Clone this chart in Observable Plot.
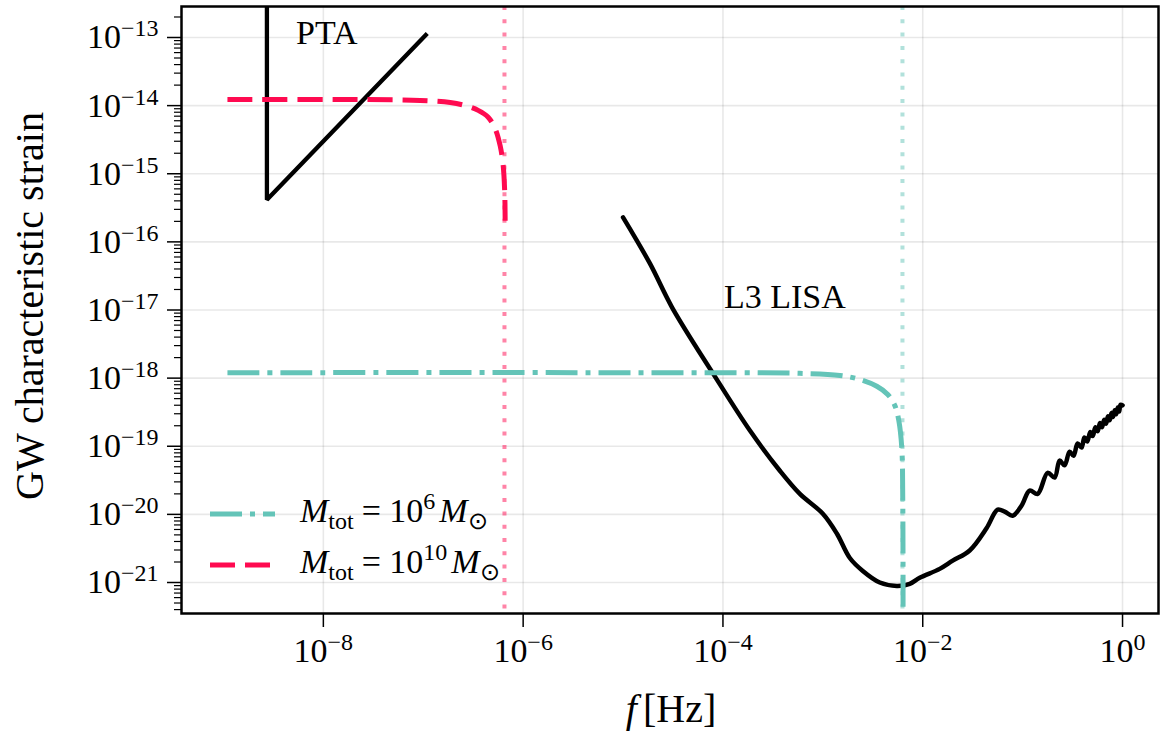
<!DOCTYPE html>
<html>
<head>
<meta charset="utf-8">
<script src="https://cdn.jsdelivr.net/npm/d3@7"></script>
<script src="https://cdn.jsdelivr.net/npm/@observablehq/plot@0.6"></script>
<style>
  html, body { margin: 0; padding: 0; background: #fff; }
  #chart { width: 1167px; height: 732px; }
</style>
</head>
<body>
<div id="chart"></div>
<script>
// ---- data (log10 values) ----
const ptaLogF = [-8.565, -8.565, -6.96];
const ptaLogH = [-12.0, -15.38, -12.94];

const lisaLogF = [-5.00,-4.73,-4.51,-4.10,-3.73,-3.43,-3.23,-3.00,-2.86,-2.73,-2.60,-2.43,-2.26,-2.13,-2.03,-1.83,-1.70,-1.53,-1.36,-1.25,-1.18,-1.10,-1.01,-0.93,-0.85,-0.75,-0.68,-0.63,-0.58,-0.53,-0.49,-0.45,-0.41,-0.382,-0.353,-0.323,-0.298,-0.272,-0.249,-0.226,-0.205,-0.184,-0.165,-0.146,-0.128,-0.111,-0.095,-0.078,-0.064,-0.048,-0.034,-0.020,0];
const lisaLogH = [-15.64,-16.32,-16.96,-17.93,-18.77,-19.36,-19.70,-19.99,-20.28,-20.64,-20.83,-21.00,-21.05,-21.02,-20.93,-20.80,-20.68,-20.53,-20.20,-19.93,-19.96,-20.02,-19.87,-19.65,-19.70,-19.39,-19.46,-19.21,-19.28,-19.08,-19.14,-18.96,-19.02,-18.87,-18.93,-18.79,-18.85,-18.72,-18.78,-18.66,-18.72,-18.61,-18.67,-18.56,-18.62,-18.51,-18.57,-18.47,-18.53,-18.43,-18.49,-18.39,-18.40];

const heavyLogF = [-8.96,-7.73,-7.03,-6.73,-6.58,-6.45,-6.35,-6.28,-6.23,-6.20,-6.185,-6.18];
const heavyLogH = [-13.91,-13.91,-13.925,-13.955,-14.0,-14.07,-14.17,-14.34,-14.59,-14.88,-15.25,-15.69];

const lightLogF = [-8.96,-5.23,-3.23,-2.83,-2.63,-2.46,-2.35,-2.28,-2.24,-2.21,-2.20,-2.197];
const lightLogH = [-17.92,-17.92,-17.93,-17.96,-18.02,-18.12,-18.24,-18.40,-18.62,-19.02,-19.80,-21.8];

const cutoffLogF = {heavy: -6.187, light: -2.203};

const xTickExps = [-8, -6, -4, -2, 0];
const yTickExps = [-21, -20, -19, -18, -17, -16, -15, -14, -13];

const legendLabels = [
  {sym: "light", exp: "6"},
  {sym: "heavy", exp: "10"}
];

// ---- styling ----
const RED = "#ff0a50";
const TEAL = "#64c4b8";
const FONT = "'Liberation Serif', 'Times New Roman', serif";

const yDomain = [10 ** -21.455, 10 ** -12.545];

const toPts = (lf, lh) => lf.map((v, i) => ({f: 10 ** v, h: 10 ** lh[i]}));
const pta = toPts(ptaLogF, ptaLogH);
const lisa = toPts(lisaLogF, lisaLogH);
const heavy = toPts(heavyLogF, heavyLogH);
const light = toPts(lightLogF, lightLogH);

const xTicks = xTickExps.map(e => 10 ** e);
const yTicks = yTickExps.map(e => 10 ** e);
const yMinor = [];
for (let d = -22; d <= -13; d++) for (let k = 2; k <= 9; k++) {
  const v = k * 10 ** d;
  if (v >= yDomain[0] && v <= yDomain[1]) yMinor.push(v);
}

const fmt = v => "10^" + String(Math.round(Math.log10(v))).replace("-", "\u2212");

const plot = Plot.plot({
  width: 1167,
  height: 732,
  marginLeft: 181,
  marginRight: 9,
  marginTop: 6,
  marginBottom: 119,
  style: {fontFamily: FONT, fontSize: "34px", background: "white", color: "black"},
  x: {type: "log", domain: [10 ** -9.42, 10 ** 0.36]},
  y: {type: "log", domain: yDomain},
  marks: [
    Plot.gridY(yTicks, {stroke: "#000", strokeOpacity: 0.09, strokeWidth: 1.6}),
    Plot.gridX(xTicks, {stroke: "#000", strokeOpacity: 0.09, strokeWidth: 1.6}),
    Plot.ruleX([10 ** cutoffLogF.heavy], {stroke: RED, strokeOpacity: 0.5, strokeWidth: 4, strokeDasharray: "4,9.3"}),
    Plot.ruleX([10 ** cutoffLogF.light], {stroke: TEAL, strokeOpacity: 0.5, strokeWidth: 4, strokeDasharray: "4,9.3"}),
    Plot.line(pta, {x: "f", y: "h", stroke: "black", strokeWidth: 4.3, clip: true, strokeLinejoin: "miter", strokeLinecap: "butt"}),
    Plot.line(lisa, {x: "f", y: "h", stroke: "black", strokeWidth: 4.5, curve: "catmull-rom", clip: true}),
    Plot.line(heavy, {x: "f", y: "h", stroke: RED, strokeWidth: 5, curve: "catmull-rom", strokeDasharray: "25,10", strokeLinecap: "butt", clip: true}),
    Plot.line(light, {x: "f", y: "h", stroke: TEAL, strokeWidth: 5, curve: "catmull-rom", strokeDasharray: "32,8,5,8", strokeLinecap: "butt", clip: true}),
    Plot.text([{f: 10 ** -7.965, h: 10 ** -12.94, t: "PTA"}], {x: "f", y: "h", text: "t", fontSize: 34, fill: "black"}),
    Plot.text([{f: 10 ** -3.38, h: 10 ** -16.81, t: "L3 LISA"}], {x: "f", y: "h", text: "t", fontSize: 34, fill: "black"}),
    Plot.frame({stroke: "black", strokeWidth: 2.5}),
    Plot.axisX(xTicks, {tickSize: 14, tickPadding: 10, tickFormat: fmt, label: null, strokeWidth: 1.5, fontSize: 34}),
    Plot.axisY(yTicks, {tickSize: 14, tickPadding: 9, tickFormat: fmt, label: null, strokeWidth: 1.5, fontSize: 34}),
    Plot.axisY(yMinor, {tickSize: 7, tickFormat: () => "", label: null, strokeWidth: 1.2})
  ]
});

document.getElementById("chart").appendChild(plot);
const svg = d3.select(plot);

// superscript tick labels
svg.selectAll("text").each(function () {
  const t = this.textContent;
  const m = /^10\^(.+)$/.exec(t);
  if (!m) return;
  const el = d3.select(this);
  el.text(null);
  el.append("tspan").text("10");
  el.append("tspan").attr("font-size", "24px").attr("dy", "-12px").text(m[1]);
});

// axis labels
svg.append("text")
  .attr("transform", "translate(43,306) rotate(-90)")
  .attr("text-anchor", "middle")
  .attr("font-family", FONT).attr("font-size", 40).attr("fill", "black")
  .text("GW characteristic strain");

const xl = svg.append("text")
  .attr("x", 671).attr("y", 722)
  .attr("text-anchor", "middle")
  .attr("font-family", FONT).attr("font-size", 40).attr("fill", "black");
xl.append("tspan").attr("font-style", "italic").text("f");
xl.append("tspan").attr("dx", "6").text("[Hz]");

// legend
const lg = svg.append("g").attr("font-family", FONT).attr("fill", "black").attr("text-anchor", "start");
legendLabels.forEach((d, i) => {
  const y = 514 + i * 51;
  lg.append("path")
    .attr("d", `M210,${y}H${i === 0 ? 275 : 270}`)
    .attr("stroke", d.sym === "light" ? TEAL : RED)
    .attr("stroke-width", 5)
    .attr("stroke-dasharray", d.sym === "light" ? "32,8,5,8" : "25,10")
    .attr("fill", "none");
  const t = lg.append("text").attr("x", 300).attr("y", y + 8).attr("font-size", 34).attr("text-anchor", "start");
  t.append("tspan").attr("font-style", "italic").text("M");
  t.append("tspan").attr("font-size", "24px").attr("dy", "7px").text("tot");
  t.append("tspan").attr("dy", "-7px").attr("dx", "8").text("= 10");
  t.append("tspan").attr("font-size", "24px").attr("dy", "-13px").text(d.exp);
  t.append("tspan").attr("dy", "13px").attr("dx", "4").attr("font-style", "italic").text("M");
  t.append("tspan").attr("font-size", "24px").attr("dy", "7px").text("\u2299");
});
</script>
</body>
</html>
